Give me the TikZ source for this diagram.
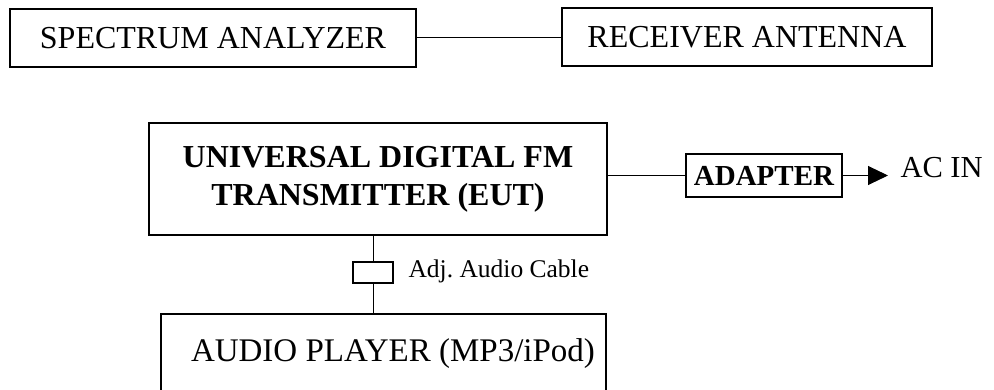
\documentclass[tikz,border=0pt]{standalone}
\usepackage{fontspec}
\setmainfont{Liberation Serif}
\usetikzlibrary{arrows.meta}
\frenchspacing

\begin{document}
\begin{tikzpicture}[x=1pt,y=-1pt,line width=1pt,
  blk/.style={draw, line width=1.3pt, inner sep=0pt, align=center},
  big/.style={font=\fontsize{32}{38}\selectfont},
  bigbf/.style={font=\fontsize{32}{38}\selectfont\bfseries}]
%\draw [help lines] (0,0) grid (994,390);
\clip (0,0) rectangle (994,390);
\node [blk, big, minimum width=406pt, minimum height=58pt] (spec) at (213,38) {SPECTRUM ANALYZER};
\node [blk, big, minimum width=370pt, minimum height=58pt] (recv) at (747,37) {RECEIVER ANTENNA};
\draw (spec.east) -- (spec.east -| recv.west);
\node [blk, bigbf, minimum width=458pt, minimum height=112pt] (eut) at (378,179) {UNIVERSAL DIGITAL FM\\TRANSMITTER (EUT)};
\node [blk, font=\fontsize{29}{34}\selectfont\bfseries, minimum width=156pt, minimum height=43pt] (adapter) at (764,175.5) {ADAPTER};
\draw (adapter.west) -- (adapter.west -| eut.east);
\node [anchor=base west, inner sep=0pt, font=\fontsize{30.5}{36}\selectfont] (acin) at (900,178) {AC IN};
\draw [-{Triangle[length=20pt,width=19pt]}, shorten >=12pt] (adapter.east) -- (adapter.east -| acin.west);
\node [blk, minimum width=40pt, minimum height=21pt] (jack) at (373,272.5) {};
\node [anchor=base west, inner sep=0pt, font=\fontsize{25.5}{30}\selectfont] (cable) at (408,278) {Adj. Audio Cable};
\node [blk, font=\fontsize{33}{38}\selectfont, minimum height=80pt, inner xsep=11pt, text width=423pt, align=flush right] (audio) at (383.5,354) {AUDIO PLAYER (MP3/iPod)};
\draw (jack.north) -- (jack.north |- eut.south);
\draw (jack.south) -- (jack.south |- audio.north);
\end{tikzpicture}
\end{document}
